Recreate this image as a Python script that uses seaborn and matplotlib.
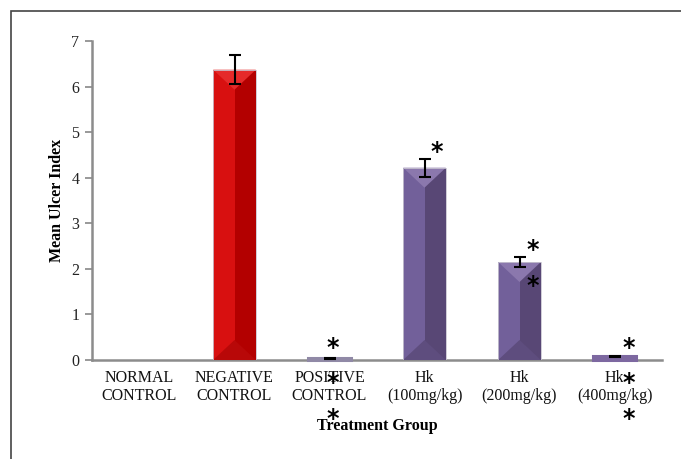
import matplotlib
matplotlib.use("Agg")
import matplotlib.pyplot as plt
import seaborn as sns
import pandas as pd
import numpy as np
from matplotlib.patches import Polygon, Rectangle
import matplotlib.transforms as mtransforms

categories = ["NORMAL\nCONTROL", "NEGATIVE\nCONTROL", "POSITIVE\nCONTROL",
              "Hk\n(100mg/kg)", "Hk\n(200mg/kg)", "Hk\n(400mg/kg)"]
mean_ulcer = [0.0, 6.37, 0.04, 4.22, 2.15, 0.08]
sem = [0.0, 0.32, 0.01, 0.20, 0.10, 0.01]
yticks = [0, 1, 2, 3, 4, 5, 6, 7]
# significance stars: (category index, star heights)
star_cat = [2, 3, 4, 5]
star_y = [[0.33, -0.44, -1.23], [4.63], [2.48, 1.69], [0.33, -0.44, -1.23]]
star_dx = [0.03, 0.13, 0.14, 0.15]

base_cols = ["#d9d9e0", "#cc0808", "#9089a6", "#6a558c", "#6a558c", "#7d68a0"]
light_cols = ["#e0e0e6", "#d81010", "#9a93b0", "#72609a", "#72609a", "#8a76ac"]
dark_cols = ["#d0d0d8", "#b30000", "#857d9c", "#584775", "#584775", "#6d5a90"]
tri_top = ["#e8e8ee", "#e52a2a", "#a9a2bd", "#8b78ad", "#8b78ad", "#9a88ba"]
tri_bot = ["#c8c8d0", "#b80808", "#7f7796", "#5e4d7e", "#5e4d7e", "#665486"]

plt.rcParams['font.family'] = ['Liberation Serif', 'DejaVu Serif']
fig = plt.figure(figsize=(6.81, 4.59), dpi=100)
ax = fig.add_axes([92 / 681, 1 - 360 / 459, (662 - 92) / 681, (360 - 41) / 459])

df = pd.DataFrame({"group": categories, "value": mean_ulcer})
sns.barplot(data=df, x="group", y="value", hue="group", palette=base_cols,
            width=0.45, errorbar=None, legend=False, ax=ax, saturation=1,
            edgecolor="none", linewidth=0)

ax.set_ylim(0, 7)
ax.set_xlim(-0.5, len(categories) - 0.5)

# bevel shading derived from bar geometry
px_per_unit = (360 - 41) / 7.0
depth = 20 / px_per_unit
for i, p in enumerate(ax.patches[:len(categories)]):
    x0, w, h = p.get_x(), p.get_width(), p.get_height()
    if h <= 0:
        continue
    xm = x0 + w / 2
    ax.add_patch(Rectangle((x0, 0), w / 2, h, color=light_cols[i], lw=0, zorder=2.1, clip_on=False))
    ax.add_patch(Rectangle((xm, 0), w / 2, h, color=dark_cols[i], lw=0, zorder=2.1, clip_on=False))
    if h > depth * 1.2:
        ax.add_patch(Polygon([[x0, h], [x0 + w, h], [xm, h - depth]],
                             closed=True, color=tri_top[i], lw=0, zorder=2.2))
        ax.add_patch(Polygon([[x0, 0], [x0 + w, 0], [xm, depth]],
                             closed=True, color=tri_bot[i], lw=0, zorder=2.2))
        ax.add_patch(Rectangle((x0, 0), w, h, fill=False, ec="#c8c4d0", lw=0.6, zorder=2.3))
    else:
        ax.add_patch(Rectangle((x0, 0), w, h, fill=True, fc=base_cols[i],
                               ec=base_cols[i], lw=2.2, zorder=2.3, clip_on=False))

xs = np.arange(len(categories))
mask = np.array(sem) > 0
ax.errorbar(xs[mask], np.array(mean_ulcer)[mask], yerr=np.array(sem)[mask],
            fmt="none", ecolor="black", elinewidth=1.5, capsize=4.5, capthick=1.5, zorder=3)

star_tr = ax.transData + mtransforms.ScaledTranslation(0, -3 / 100, fig.dpi_scale_trans)
for c, ys, dx in zip(star_cat, star_y, star_dx):
    for yv in ys:
        ax.text(c + dx, yv, "*", ha="center", va="center", fontsize=17,
                fontweight="bold", family="DejaVu Sans", clip_on=False, zorder=4,
                transform=star_tr)

ax.set_yticks(yticks)
ax.tick_params(axis="y", direction="out", length=5, width=1.2, color="#888888",
               labelsize=11.5, labelcolor="#222222", pad=4)
ax.tick_params(axis="x", length=0, labelsize=11.5, labelcolor="#111111", pad=7)
for s in ["top", "right"]:
    ax.spines[s].set_visible(False)
for s in ["left", "bottom"]:
    ax.spines[s].set_color("#8c8c8c")
    ax.spines[s].set_linewidth(1.8)
ax.spines["bottom"].set_zorder(1)

ax.set_ylabel("Mean Ulcer Index", fontsize=11.5, fontweight="bold")
ax.set_xlabel("Treatment Group", fontsize=11.5, fontweight="bold")
ax.yaxis.set_label_coords(-0.047, 0.5)
ax.xaxis.set_label_coords(0.5, -0.183)

# outer chart border
fig.patches.append(Rectangle((11 / 681, -0.05), 1.2, 1 - 11 / 459 + 0.05,
                             transform=fig.transFigure, fill=False, ec="#444444",
                             lw=1.2, zorder=0))

fig.savefig("out.png", dpi=100)
